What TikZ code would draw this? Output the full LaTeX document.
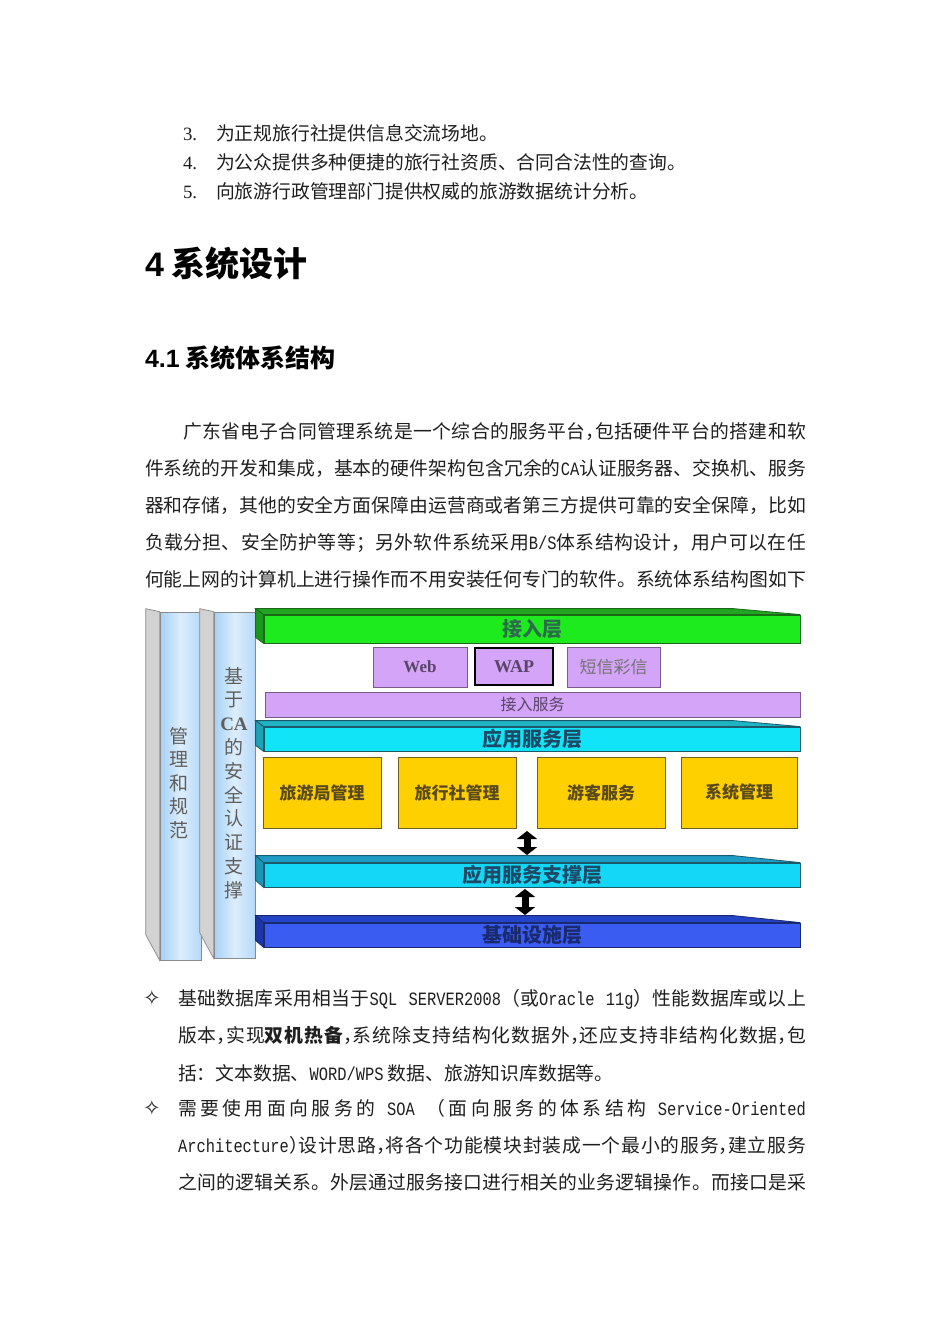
\documentclass[tikz,border=0pt]{standalone}
\usepackage{fontspec}
\usetikzlibrary{arrows.meta,calc}
\setmainfont{Noto Sans CJK SC}
\newfontfamily\arialf{Liberation Sans}
\newfontfamily\monof[FakeStretch=0.82]{Liberation Mono}
\newfontfamily\timesf{Liberation Serif}
\newfontfamily\symf{DejaVu Sans}
\newcount\cjkc
\cjkc="3000
\loop \XeTeXcharclass\cjkc=1 \advance\cjkc by 1 \ifnum\cjkc<"3040 \repeat
\cjkc="4E00
\loop \XeTeXcharclass\cjkc=1 \advance\cjkc by 1 \ifnum\cjkc<"A000 \repeat
\cjkc="FF00
\loop \XeTeXcharclass\cjkc=1 \advance\cjkc by 1 \ifnum\cjkc<"FFF0 \repeat
\XeTeXinterchartokenstate=1
\XeTeXinterchartoks 1 1 = {\hskip 0pt plus 1pt\relax}
\XeTeXinterchartoks 0 1 = {\hskip 0pt plus 1pt\relax}
\XeTeXinterchartoks 1 0 = {\hskip 0pt plus 1pt\relax}
\newcommand\hw[1]{\makebox[0.5em][l]{#1}}
\newcommand\lt[1]{{\monof #1}}
\newcommand\jl[2]{\makebox[#1][s]{#2}}
\definecolor{gfront}{HTML}{1EEB1E}
\definecolor{gtop}{HTML}{22A622}
\definecolor{gside}{HTML}{189A18}
\definecolor{gedge}{HTML}{1A6A1A}
\definecolor{gtxt}{HTML}{2E6A4E}
\definecolor{pfill}{HTML}{D4A4F8}
\definecolor{pedge}{HTML}{7A5A8C}
\definecolor{ptxt}{HTML}{5A4468}
\definecolor{cfront}{HTML}{12E4F8}
\definecolor{ctop}{HTML}{1EB4C4}
\definecolor{cside}{HTML}{1AA4B6}
\definecolor{cedge}{HTML}{1A5A6A}
\definecolor{ctxt}{HTML}{1C4A66}
\definecolor{sfront}{HTML}{14D6F6}
\definecolor{stop}{HTML}{1E9CC6}
\definecolor{sside}{HTML}{1A96B8}
\definecolor{bfront}{HTML}{3A5CF0}
\definecolor{btop}{HTML}{2444C8}
\definecolor{bside}{HTML}{1C36A8}
\definecolor{bedge}{HTML}{1A2A70}
\definecolor{btxt}{HTML}{1A2A6E}
\definecolor{yfill}{HTML}{FFD000}
\definecolor{yedge}{HTML}{6E5E20}
\definecolor{ytxt}{HTML}{5A4A1A}
\definecolor{pilA}{HTML}{A6D0F5}
\definecolor{pilB}{HTML}{DCEEFC}
\definecolor{pilC}{HTML}{B6D9F8}
\definecolor{pgray}{HTML}{D2D2D2}
\definecolor{pedgeg}{HTML}{8A8A8A}
\definecolor{piltxt}{HTML}{5E5E5E}
\begin{document}
\begin{tikzpicture}[x=1pt,y=-1pt,
  txt/.style={anchor=base west, inner sep=0pt, outer sep=0pt, text=black!88},
  bodyf/.style={font=\fontsize{18.8}{20}\selectfont},
  slab/.style={draw, line width=0.8pt, inner sep=0pt, font=\bfseries\fontsize{20}{20}\selectfont},
  pbox/.style={draw=pedge, fill=pfill, line width=0.8pt, inner sep=0pt, text=ptxt},
  ybox/.style={draw=yedge, fill=yfill, line width=0.9pt, inner sep=0pt, text=ytxt, minimum height=71pt, font=\bfseries\fontsize{17}{17}\selectfont},
  pillar/.style={draw=pedgeg, line width=0.7pt, inner sep=0pt, left color=pilA, right color=pilC, middle color=pilB},
  pside/.style={fill=pgray, draw=pedgeg, line width=0.7pt},
  piltext/.style={inner sep=0pt, align=center, text=piltxt},
  dbl/.style={line width=7pt, {Triangle[width=20pt,length=8pt]}-{Triangle[width=20pt,length=8pt]}, draw=black}
]
\path[use as bounding box, fill=white] (0,0) rectangle (950,1344);

% ---- numbered list ----
\node[txt,bodyf] (n3) at (183,140) {\timesf 3.};
\node[txt,bodyf] (i3) at (216,140) {为正规旅行社提供信息交流场地。};
\node[txt,bodyf] (n4) at (183,169) {\timesf 4.};
\node[txt,bodyf] (i4) at (216,169) {为公众提供多种便捷的旅行社资质、合同合法性的查询。};
\node[txt,bodyf] (n5) at (183,198) {\timesf 5.};
\node[txt,bodyf] (i5) at (216,198) {向旅游行政管理部门提供权威的旅游数据统计分析。};

% ---- headings ----
\node[txt, text=black, font=\bfseries\fontsize{34}{34}\selectfont] (h1) at (145,276) {{\arialf\bfseries 4} 系统设计};
\node[txt, text=black, font=\bfseries\fontsize{25}{25}\selectfont] (h2) at (145,367) {{\arialf\bfseries 4.1} 系统体系结构};

% ---- paragraph ----
\node[txt,bodyf] (p1) at (183,438) {\jl{623pt}{广东省电子合同管理系统是一个综合的服务平台{\hw{，}}包括硬件平台的搭建和软}};
\node[txt,bodyf] (p2) at (145,475) {\jl{661pt}{件系统的开发和集成，基本的硬件架构包含冗余的\lt{CA}认证服务器、交换机、服务}};
\node[txt,bodyf] (p3) at (145,512) {\jl{661pt}{器和存储，其他的安全方面保障由运营商或者第三方提供可靠的安全保障，比如}};
\node[txt,bodyf] (p4) at (145,549) {\jl{661pt}{负载分担、安全防护等等；另外软件系统采用\lt{B/S}体系结构设计，用户可以在任}};
\node[txt,bodyf] (p5) at (145,586) {\jl{661pt}{何能上网的计算机上进行操作而不用安装任何专门的软件。系统体系结构图如下}};

% ---- pillars ----
\node[pillar, minimum width=41pt, minimum height=348pt] (P1) at (180.5,786) {};
\filldraw[pside] (P1.north west) -- ++(-14,-3) -- ++(0,326) -- (P1.south west) -- cycle;
\node[piltext, font=\fontsize{19}{23.5}\selectfont] (P1t) at (179,783) {管\\理\\和\\规\\范};
\node[pillar, minimum width=41pt, minimum height=346pt] (P2) at (234.5,785) {};
\filldraw[pside] (P2.north west) -- ++(-14,-3) -- ++(0,324) -- (P2.south west) -- cycle;
\node[piltext, font=\fontsize{19}{23.8}\selectfont] (P2t) at (234,783) {基\\于\\{\timesf\bfseries CA}\\的\\安\\全\\认\\证\\支\\撑};

% ---- L1 green access layer ----
\node[slab, draw=gedge, fill=gfront, text=gtxt, minimum width=536pt, minimum height=28pt] (L1) at (532,629) {接入层};
\filldraw[fill=gtop, draw=gedge, line width=0.8pt] (L1.north west) -- ++(-8,-6) -- ($(L1.north east)+(-67,-6)$) -- (L1.north east) -- cycle;
\filldraw[fill=gside, draw=gedge, line width=0.8pt] (L1.north west) -- ++(-8,-6) -- ($(L1.south west)+(-8,-6)$) -- (L1.south west) -- cycle;

% ---- access boxes ----
\node[pbox, minimum width=94pt, minimum height=40pt, font=\timesf\bfseries\fontsize{17}{17}\selectfont] (web) at (420,667) {Web};
\node[pbox, draw=black, line width=1.6pt, minimum width=78pt, minimum height=37pt, font=\timesf\bfseries\fontsize{18}{18}\selectfont] (wap) at (514,666.5) {WAP};
\node[pbox, text=black!55, minimum width=93pt, minimum height=40pt, font=\fontsize{17}{17}\selectfont] (sms) at (613.5,667) {短信彩信};
\node[pbox, minimum width=535pt, minimum height=25pt, font=\fontsize{16}{16}\selectfont] (acc) at (532.5,704.5) {接入服务};

% ---- L2 application service layer ----
\node[slab, draw=cedge, fill=cfront, text=ctxt, minimum width=536pt, minimum height=24pt] (L2) at (532,739) {应用服务层};
\filldraw[fill=ctop, draw=cedge, line width=0.8pt] (L2.north west) -- ++(-8,-6) -- ($(L2.north east)+(-67,-6)$) -- (L2.north east) -- cycle;
\filldraw[fill=cside, draw=cedge, line width=0.8pt] (L2.north west) -- ++(-8,-6) -- ($(L2.south west)+(-8,-6)$) -- (L2.south west) -- cycle;

% ---- service modules ----
\node[ybox, minimum width=118pt] (m1) at (322,792.5) {旅游局管理};
\node[ybox, minimum width=118pt] (m2) at (457,792.5) {旅行社管理};
\node[ybox, minimum width=128pt] (m3) at (601,792.5) {游客服务};
\node[ybox, minimum width=116pt] (m4) at (739,792.5) {系统管理};

% ---- L3 support layer ----
\node[slab, draw=cedge, fill=sfront, text=ctxt, minimum width=536pt, minimum height=24pt] (L3) at (532,875) {应用服务支撑层};
\filldraw[fill=stop, draw=cedge, line width=0.8pt] (L3.north west) -- ++(-8,-7) -- ($(L3.north east)+(-67,-7)$) -- (L3.north east) -- cycle;
\filldraw[fill=sside, draw=cedge, line width=0.8pt] (L3.north west) -- ++(-8,-7) -- ($(L3.south west)+(-8,-7)$) -- (L3.south west) -- cycle;

% ---- L4 infrastructure layer ----
\node[slab, draw=bedge, fill=bfront, text=btxt, minimum width=536pt, minimum height=24pt] (L4) at (532,935) {基础设施层};
\filldraw[fill=btop, draw=bedge, line width=0.8pt] (L4.north west) -- ++(-8,-7) -- ($(L4.north east)+(-67,-7)$) -- (L4.north east) -- cycle;
\filldraw[fill=bside, draw=bedge, line width=0.8pt] (L4.north west) -- ++(-8,-7) -- ($(L4.south west)+(-8,-7)$) -- (L4.south west) -- cycle;

% ---- double arrows ----
\coordinate (a1t) at (527,831);
\coordinate (a1b) at (527,855);
\coordinate (a2t) at (525,889);
\coordinate (a2b) at (525,915);
\draw[dbl] (a1t) -- (a1b);
\draw[dbl] (a2t) -- (a2b);

% ---- bullets ----
\node[txt, font=\symf\fontsize{21}{21}\selectfont] (s1) at (143,1005) {✧};
\node[txt,bodyf] (b1) at (178,1005) {\jl{628pt}{基础数据库采用相当于\lt{SQL SERVER2008}（或\lt{Oracle 11g}）性能数据库或以上}};
\node[txt,bodyf] (b2) at (178,1042) {\jl{628pt}{版本{\hw{，}}实现{\bfseries 双机热备}{\hw{，}}系统除支持结构化数据外{\hw{，}}还应支持非结构化数据{\hw{，}}包}};
\node[txt,bodyf] (b3) at (178,1080) {括：文本数据、\lt{WORD/WPS} 数据、旅游知识库数据等。};
\node[txt, font=\symf\fontsize{21}{21}\selectfont] (s2) at (143,1115) {✧};
\node[txt,bodyf] (b4) at (178,1115) {\jl{628pt}{需要使用面向服务的 \lt{SOA} （面向服务的体系结构 \lt{Service-Oriented}}};
\node[txt,bodyf] (b5) at (178,1152) {\jl{628pt}{\lt{Architecture}{\hw{）}}设计思路{\hw{，}}将各个功能模块封装成一个最小的服务{\hw{，}}建立服务}};
\node[txt,bodyf] (b6) at (178,1189) {\jl{628pt}{之间的逻辑关系。外层通过服务接口进行相关的业务逻辑操作。而接口是采}};
\end{tikzpicture}
\end{document}
